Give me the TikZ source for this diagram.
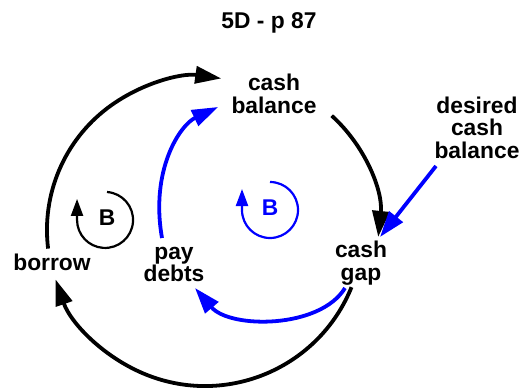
\documentclass[tikz,border=0pt]{standalone}
\usepackage{fontspec}
\setmainfont{Liberation Sans}
\usetikzlibrary{arrows.meta}
\begin{document}
\begin{tikzpicture}[x=1pt,y=1pt,
  lbl/.style={font=\fontsize{22.8}{22.5}\selectfont\bfseries, align=center, inner sep=0pt, anchor=base},
  blk/.style={line width=3.8pt, -{Triangle[length=26pt,width=17pt]}},
  blu/.style={blk, color=blue},
  loopb/.style={line width=2.2pt, -{Triangle[length=17pt,width=12pt]}},
  lb/.style={font=\fontsize{22.8}{22.5}\selectfont\bfseries, inner sep=0pt},
]
\useasboundingbox (0,0) rectangle (527,-388);
% labels (base = baseline of last line)
\node[lbl] (title) at (269,-28.3) {5D - p 87};
\node[lbl] (cb) at (274,-113.3) {cash\\balance};
\node[lbl] (dcb) at (477,-158) {desired\\cash\\balance};
\node[lbl] (gap) at (361,-280) {cash\\gap};
\node[lbl] (pay) at (174,-281.7) {pay\\debts};
\node[lbl] (borrow) at (52,-270.7) {borrow};
% connector end points
\coordinate (a1s) at (48.1,-248.6);
\coordinate (a2s) at (331.7,-115.7);
\coordinate (a5s) at (351.5,-287.2);
\coordinate (a3s) at (436,-166);
\coordinate (a3e) at (380,-237);
\coordinate (a4s) at (345,-288);
\coordinate (a4e) at (195,-288);
\coordinate (a6s) at (162,-238);
\coordinate (a6e) at (218,-107);
% black links
\draw[blk] (a1s) arc[start angle=187, end angle=82, radius=153];
\draw[blk] (a2s) arc[start angle=48, end angle=-6, radius=143];
\draw[blk] (a5s) arc[start angle=-22, end angle=-161, radius=158];
% blue links
\draw[blu] (a3s) -- (a3e);
\draw[blu] (a4s) .. controls (320,-329) and (230,-329) .. (a4e);
\draw[blu] (a6s) .. controls (150,-170) and (180,-125) .. (a6e);
% loop markers
\coordinate (l1s) at (107,-192);
\coordinate (l2s) at (270,-182);
\draw[loopb] (l1s) arc[start angle=86, end angle=-180, radius=28] -- ++(0,21);
\draw[loopb, color=blue] (l2s) arc[start angle=90, end angle=-180, radius=28] -- ++(0,21);
\node[lb] (b1) at (107,-218) {B};
\node[lb, text=blue] (b2) at (270,-207.7) {B};
\end{tikzpicture}
\end{document}
